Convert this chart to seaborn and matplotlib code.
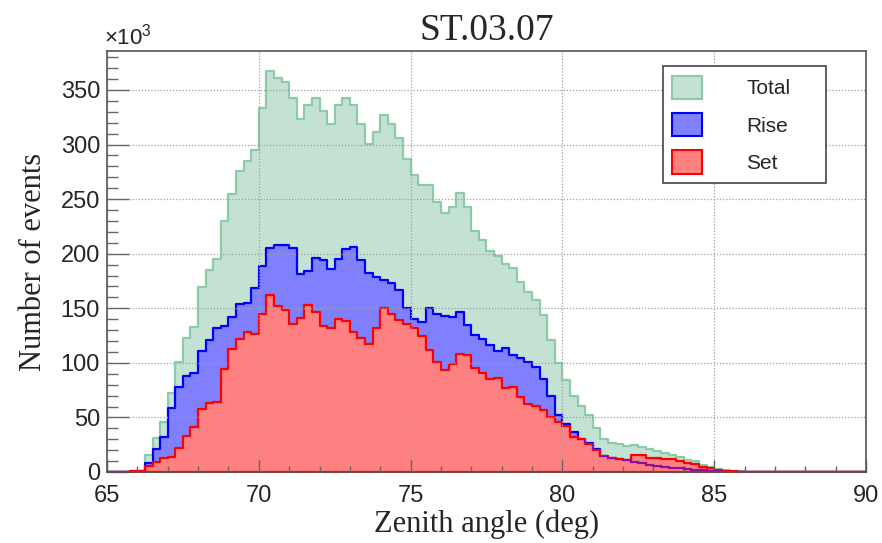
import numpy as np
import pandas as pd
import matplotlib
matplotlib.use("Agg")
import matplotlib.pyplot as plt
from matplotlib.patches import Patch
from matplotlib.ticker import MultipleLocator
import seaborn as sns

# Zenith angle binning: 100 bins of 0.25 deg between 65 and 90 deg
angle_min, angle_max, bin_width = 65.0, 90.0, 0.25

# Event counts per bin, in units of 10^3
total_k = [
    0, 0, 0.3, 0.5, 0.8, 15.3, 31.5, 45.6, 72.8, 100.9,
    122.9, 133.3, 169.7, 185.0, 195.4, 230.0, 255.0, 276.0, 285.3, 295.4,
    333.3, 367.3, 361.1, 357.5, 342.2, 323.2, 336.4, 342.5, 330.3, 318.9,
    336.6, 342.5, 336.4, 319.0, 300.3, 311.3, 327.2, 319.0, 305.8, 287.1,
    272.5, 262.7, 262.7, 247.1, 237.0, 242.5, 255.4, 242.5, 221.1, 212.8,
    202.5, 197.5, 190.5, 186.5, 173.7, 164.8, 157.8, 144.0, 120.8, 99.5,
    84.4, 70.0, 60.7, 52.4, 39.9, 30.3, 26.5, 25.2, 24.2, 24.5,
    22.8, 20.8, 18.8, 17.5, 15.8, 13.8, 11.3, 10.0, 6.4, 4.6,
    3.1, 1.6, 1.1, 0.7, 0.4, 0, 0, 0, 0, 0,
    0, 0, 0, 0, 0, 0, 0, 0, 0, 0,
]
rise_k = [
    0, 0, 0.2, 0.3, 0.5, 8.0, 20.8, 31.8, 59.0, 77.7,
    87.5, 90.8, 111.3, 120.5, 131.8, 134.2, 141.9, 153.8, 155.0, 168.5,
    188.4, 205.0, 208.4, 208.4, 205.5, 181.8, 184.0, 195.7, 194.3, 186.2,
    195.4, 204.7, 205.8, 194.5, 182.0, 178.6, 175.8, 172.8, 166.7, 150.4,
    140.0, 137.6, 150.2, 145.0, 143.3, 142.0, 146.6, 134.8, 125.7, 121.7,
    116.0, 110.8, 113.7, 107.6, 104.8, 100.6, 96.3, 85.0, 69.5, 52.3,
    44.0, 37.0, 30.5, 26.8, 21.0, 15.0, 13.2, 11.8, 11.0, 9.5,
    8.5, 6.5, 5.5, 4.9, 4.1, 3.4, 2.8, 2.2, 1.6, 1.1,
    0.6, 0.3, 0.1, 0, 0, 0, 0, 0, 0, 0,
    0, 0, 0, 0, 0, 0, 0, 0, 0, 0,
]
set_k = [
    0, 0, 0.4, 0.8, 1.3, 5.8, 9.5, 12.5, 13.8, 22.3,
    33.3, 41.6, 57.5, 63.6, 64.5, 94.8, 112.5, 121.7, 128.7, 126.0,
    144.6, 161.8, 152.3, 148.3, 136.0, 141.0, 152.6, 146.2, 134.2, 132.0,
    140.4, 138.4, 128.7, 123.2, 117.7, 132.0, 150.7, 144.6, 138.8, 136.0,
    131.8, 124.8, 111.9, 100.6, 93.3, 99.0, 108.3, 107.4, 95.1, 90.5,
    85.3, 86.5, 76.5, 77.5, 69.1, 62.5, 60.5, 57.2, 50.0, 46.2,
    42.2, 32.5, 30.2, 25.7, 20.5, 14.5, 13.0, 11.6, 11.0, 15.2,
    15.2, 13.2, 13.2, 12.3, 11.7, 10.5, 8.4, 7.2, 4.9, 3.5,
    2.0, 1.2, 0.6, 0.4, 0.2, 0, 0, 0, 0, 0,
    0, 0, 0, 0, 0, 0, 0, 0, 0, 0,
]

series_names = ["Total", "Rise", "Set"]
x_ticks = [65, 70, 75, 80, 85, 90]
y_ticks = [0, 50, 100, 150, 200, 250, 300, 350]

edges = np.linspace(angle_min, angle_max, len(total_k) + 1)
centers = (edges[:-1] + edges[1:]) / 2
df = pd.DataFrame({"angle": centers, "Total": total_k, "Rise": rise_k, "Set": set_k})

sns.set_style("white")
plt.rcParams["font.family"] = ["Liberation Sans", "DejaVu Sans"]
plt.rcParams["mathtext.fontset"] = "custom"
plt.rcParams["mathtext.rm"] = "Liberation Sans"
plt.rcParams["mathtext.it"] = "Liberation Sans"

fig = plt.figure(figsize=(8.82, 5.43), dpi=100)
ax = fig.add_axes([107 / 882, 1 - 472 / 543, 759 / 882, 421 / 543])

styles = {
    "Total": dict(face="#c4e2d3", edge="#8ccaa9"),
    "Rise": dict(face="#8080ff", edge="#0000ff"),
    "Set": dict(face="#ff8080", edge="#ff0000"),
}

for name in series_names:
    sns.histplot(data=df, x="angle", weights=name, binwidth=bin_width,
                 binrange=(angle_min, angle_max), element="step",
                 fill=True, ax=ax, facecolor=styles[name]["face"],
                 edgecolor=styles[name]["edge"], linewidth=1.6, alpha=1,
                 zorder=2)

# Rise outline seen through the Set fill where Rise lies below Set
set_poly = ax.collections[-1]
rise_line = ax.stairs(df["Rise"], edges, color="#8a10a0", linewidth=1.6, zorder=3)
rise_line.set_clip_path(set_poly.get_paths()[0], ax.transData)

ax.set_xlim(angle_min, angle_max)
ax.set_ylim(0, 385.7)

ax.xaxis.set_major_locator(MultipleLocator(5))
ax.xaxis.set_minor_locator(MultipleLocator(1))
ax.yaxis.set_major_locator(MultipleLocator(50))
ax.yaxis.set_minor_locator(MultipleLocator(10))
ax.set_xticks(x_ticks)
ax.set_yticks(y_ticks)
ax.set_xticklabels([str(t) for t in x_ticks], fontsize=17)
ax.set_yticklabels([str(t) for t in y_ticks], fontsize=17)

ax.tick_params(axis="x", which="major", direction="in", length=9, width=1,
               color="#666666", pad=9, bottom=True, top=False)
ax.tick_params(axis="x", which="minor", direction="in", length=4.5, width=1,
               color="#666666", bottom=True, top=False)
ax.tick_params(axis="y", which="major", direction="in", length=16, width=1,
               color="#666666", pad=5, left=True, right=False)
ax.tick_params(axis="y", which="minor", direction="in", length=8, width=1,
               color="#666666", left=True, right=False)

ax.grid(True, which="major", color="#a0a0a0", linestyle=(0, (1, 1.5)), linewidth=0.9)
ax.set_axisbelow(False)
for gl in ax.get_xgridlines() + ax.get_ygridlines():
    gl.set_zorder(2.5)

for sp in ax.spines.values():
    sp.set_visible(True)
    sp.set_color("#555555")
    sp.set_linewidth(1.2)
    sp.set_zorder(4)

serif = ["Liberation Serif", "DejaVu Serif"]
ax.set_title("ST.03.07", fontsize=27, family=serif, pad=8)
ax.set_xlabel("Zenith angle (deg)", fontsize=22, family=serif)
ax.set_ylabel("Number of events", fontsize=22, family=serif)
ax.xaxis.set_label_coords(0.5, -0.09)
ax.yaxis.set_label_coords(-0.078, 0.5)

ax.text(-0.004, 1.004, r"$\times10^{3}$", transform=ax.transAxes, fontsize=16,
        ha="left", va="bottom", color="#222222")

handles = [Patch(facecolor=styles[n]["face"], edgecolor=styles[n]["edge"], linewidth=1.5)
           for n in series_names]
leg = ax.legend(handles, series_names, loc="upper left",
                bbox_to_anchor=(0.7325, 0.691, 0.2145, 0.273), mode="expand",
                borderaxespad=0, fontsize=15, handlelength=1.44, handleheight=1.35,
                handletextpad=2.1, labelspacing=0.67, borderpad=0.45,
                fancybox=False, framealpha=1, edgecolor="#444444")
leg.get_frame().set_linewidth(1.2)
leg.set_zorder(5)

fig.savefig("out.png", dpi=100)
